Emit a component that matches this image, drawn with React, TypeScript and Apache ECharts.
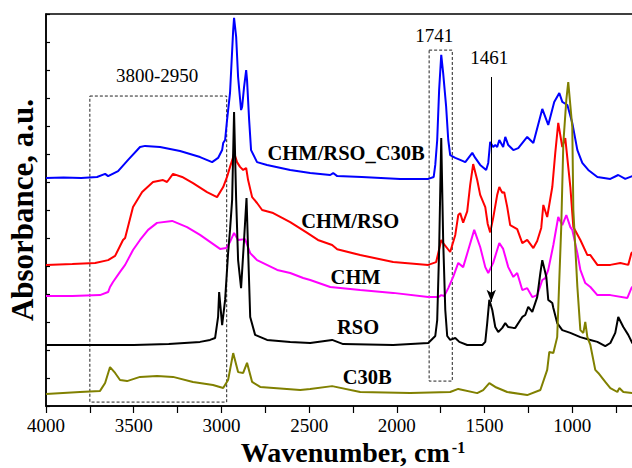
import React, { useEffect, useRef } from "react";
import * as echarts from "echarts";

// Wavenumber (cm-1), absorbance (a.u., offset stacked)
const chmRsoC30b: [number, number][] = [
  [4000, 8.14], [3900, 8.16], [3800, 8.14], [3709, 8.18], [3663, 8.29], [3646, 8.21], [3589, 8.39],
  [3532, 8.79], [3464, 9.25], [3435, 9.29], [3350, 9.25], [3236, 9.11], [3122, 8.89], [3053, 8.71],
  [3019, 8.86], [2996, 9.14], [2990, 9.39], [2979, 9.5], [2968, 10.21], [2951, 11.18], [2933, 13.43],
  [2928, 13.86], [2916, 13.18], [2905, 11.75], [2888, 10.57], [2882, 10.68], [2871, 11.39], [2859, 12.0],
  [2854, 11.64], [2842, 10.21], [2831, 9.14], [2797, 8.71], [2740, 8.61], [2608, 8.43], [2494, 8.32],
  [2380, 8.25], [2363, 8.32], [2340, 8.21], [2200, 8.18], [1981, 8.11], [1821, 8.11], [1790, 8.18],
  [1781, 8.61], [1770, 9.5], [1759, 11.29], [1747, 12.54], [1736, 11.89], [1719, 10.68], [1707, 9.5],
  [1696, 8.96], [1667, 8.86], [1639, 8.79], [1610, 8.71], [1570, 9.04], [1553, 8.86], [1525, 8.61],
  [1491, 8.43], [1479, 8.68], [1468, 9.43], [1451, 9.25], [1439, 9.32], [1428, 9.25], [1416, 9.5],
  [1394, 9.25], [1382, 9.61], [1365, 9.32], [1336, 9.14], [1308, 9.21], [1257, 9.61], [1222, 9.39],
  [1171, 10.61], [1137, 10.04], [1103, 10.86], [1074, 11.18], [1057, 10.86], [1028, 10.75], [1000, 10.11],
  [971, 9.14], [943, 8.68], [909, 8.43], [857, 8.18], [783, 8.11], [738, 8.25], [698, 8.11], [658, 8.21],
  [640, 8.2],
];

const chmRso: [number, number][] = [
  [4000, 5.04], [3850, 5.07], [3720, 5.11], [3646, 5.21], [3606, 5.36], [3561, 5.93], [3549, 6.0],
  [3504, 7.11], [3452, 7.64], [3390, 8.0], [3333, 8.07], [3310, 8.0], [3276, 8.29], [3224, 8.18],
  [3162, 7.96], [3082, 7.64], [3025, 7.46], [2990, 7.82], [2968, 8.18], [2951, 8.54], [2933, 8.89],
  [2928, 9.04], [2911, 8.71], [2894, 8.54], [2876, 8.43], [2859, 8.5], [2848, 8.07], [2825, 7.46],
  [2797, 7.25], [2768, 7.0], [2705, 6.89], [2608, 6.57], [2511, 6.18], [2450, 5.93], [2369, 5.75],
  [2340, 5.6], [2209, 5.39], [2021, 5.14], [1821, 5.04], [1776, 5.14], [1759, 5.6], [1747, 5.93],
  [1736, 5.82], [1696, 5.5], [1667, 6.11], [1650, 6.82], [1639, 6.89], [1622, 6.55], [1599, 6.95],
  [1582, 7.9], [1565, 8.64], [1542, 8.07], [1525, 7.54], [1496, 7.1], [1482, 6.5], [1468, 6.2],
  [1451, 6.71], [1428, 7.54], [1416, 7.82], [1399, 7.61], [1388, 7.64], [1371, 7.11], [1354, 6.46],
  [1314, 6.32], [1285, 5.82], [1257, 5.93], [1222, 5.64], [1200, 5.89], [1177, 6.36], [1165, 7.18],
  [1143, 6.75], [1114, 7.82], [1097, 9.04], [1080, 10.11], [1057, 9.25], [1040, 9.57], [1011, 7.82],
  [994, 6.39], [954, 5.93], [914, 5.39], [897, 5.39], [857, 5.04], [783, 5.04], [726, 5.11], [681, 5.04],
  [663, 5.46], [640, 5.6],
];

const chm: [number, number][] = [
  [4000, 3.93], [3850, 3.93], [3692, 3.96], [3646, 4.07], [3635, 4.25], [3618, 4.43], [3578, 4.79],
  [3549, 5.04], [3504, 5.57], [3464, 5.93], [3418, 6.29], [3367, 6.54], [3281, 6.61], [3196, 6.39],
  [3122, 6.11], [3065, 5.86], [3008, 5.61], [2973, 5.64], [2951, 5.86], [2928, 6.18], [2905, 5.93],
  [2865, 5.96], [2836, 5.46], [2797, 5.21], [2682, 4.86], [2608, 4.75], [2534, 4.57], [2494, 4.5],
  [2380, 4.25], [2209, 4.14], [2021, 4.04], [1821, 3.89], [1764, 3.89], [1747, 3.96], [1730, 3.93],
  [1707, 4.21], [1679, 4.61], [1650, 5.11], [1622, 4.96], [1593, 5.57], [1559, 6.29], [1525, 5.68],
  [1496, 4.96], [1479, 4.75], [1451, 5.11], [1416, 5.82], [1394, 5.61], [1365, 4.96], [1336, 4.61],
  [1314, 4.75], [1285, 4.14], [1257, 4.21], [1228, 3.89], [1200, 3.96], [1171, 4.5], [1154, 4.57],
  [1137, 4.86], [1108, 5.75], [1080, 6.75], [1057, 6.46], [1034, 6.82], [1011, 6.39], [1000, 6.29],
  [971, 5.46], [954, 4.86], [926, 4.39], [897, 4.25], [857, 3.96], [783, 3.96], [686, 3.86], [663, 4.21],
  [640, 4.4],
];

const rso: [number, number][] = [
  [4000, 2.18], [3800, 2.18], [3500, 2.18], [3300, 2.21], [3122, 2.29], [3065, 2.36], [3036, 2.43],
  [3019, 3.18], [3013, 4.07], [2996, 2.89], [2979, 3.79], [2962, 5.46], [2951, 6.29], [2939, 7.36],
  [2928, 10.5], [2916, 7.36], [2905, 5.21], [2888, 4.21], [2871, 5.93], [2857, 7.43], [2848, 5.57],
  [2836, 3.18], [2808, 2.54], [2740, 2.36], [2608, 2.29], [2494, 2.25], [2369, 2.36], [2306, 2.21],
  [2021, 2.18], [1821, 2.25], [1781, 2.5], [1770, 3.07], [1759, 5.57], [1747, 9.57], [1736, 5.93],
  [1724, 3.43], [1713, 2.5], [1696, 2.36], [1667, 2.43], [1644, 2.29], [1599, 2.18], [1513, 2.18],
  [1496, 2.29], [1485, 2.96], [1473, 3.79], [1456, 3.43], [1439, 2.82], [1422, 2.64], [1399, 2.79],
  [1382, 2.96], [1365, 2.82], [1336, 2.79], [1325, 2.79], [1285, 3.18], [1268, 3.25], [1251, 3.54],
  [1228, 3.36], [1200, 3.89], [1182, 4.75], [1171, 5.21], [1148, 4.61], [1137, 3.79], [1114, 3.68],
  [1108, 3.5], [1086, 2.96], [1057, 2.71], [1011, 2.61], [954, 2.46], [897, 2.36], [857, 2.29],
  [812, 2.14], [783, 2.25], [755, 2.61], [738, 3.18], [709, 2.82], [681, 2.54], [658, 2.25], [640, 2.1],
];

const c30b: [number, number][] = [
  [4000, 0.43], [3806, 0.5], [3692, 0.54], [3663, 0.82], [3635, 1.39], [3606, 1.18], [3578, 0.93],
  [3538, 0.89], [3464, 1.04], [3367, 1.07], [3276, 1.04], [3162, 0.86], [3048, 0.75], [2990, 0.64],
  [2962, 0.93], [2933, 1.89], [2905, 1.21], [2876, 1.18], [2854, 1.54], [2825, 0.86], [2779, 0.68],
  [2551, 0.57], [2494, 0.61], [2369, 0.71], [2209, 0.5], [1924, 0.46], [1696, 0.5], [1650, 0.61],
  [1542, 0.46], [1508, 0.57], [1473, 0.82], [1439, 0.68], [1371, 0.5], [1257, 0.39], [1182, 0.57],
  [1143, 1.29], [1131, 1.93], [1108, 1.89], [1086, 2.46], [1063, 6.39], [1051, 9.39], [1034, 10.93],
  [1023, 11.57], [1000, 9.96], [994, 7.0], [971, 4.25], [954, 2.71], [937, 2.61], [926, 3.0],
  [914, 2.46], [897, 2.18], [869, 1.29], [852, 1.18], [812, 0.86], [783, 0.64], [743, 0.5], [732, 0.64],
  [709, 0.5], [658, 0.46], [640, 0.45],
];

const seriesNames = ["CHM/RSO_C30B", "CHM/RSO", "CHM", "RSO", "C30B"];
const seriesColors = ["#0000FF", "#FF0000", "#FF00FF", "#000000", "#808000"];
const seriesData = [chmRsoC30b, chmRso, chm, rso, c30b];
// label anchor positions (wavenumber, absorbance) for each curve name
const curveLabelPos: [number, number][] = [
  [2289, 9.04], [2266, 6.61], [2235, 4.61], [2221, 2.82], [2169, 1.05],
];
const xTickLabels = [4000, 3500, 3000, 2500, 2000, 1500, 1000];

const FONT = "'Liberation Serif', 'Times New Roman', serif";

export default function App() {
  const ref = useRef<HTMLDivElement>(null);
  useEffect(() => {
    const chart = echarts.init(ref.current!, null, { renderer: "svg" });
    const series: any[] = seriesData.map((d, i) => ({
      name: seriesNames[i],
      type: "line",
      data: d,
      showSymbol: false,
      symbol: "none",
      smooth: false,
      silent: true,
      lineStyle: { color: seriesColors[i], width: 2 },
      itemStyle: { color: seriesColors[i] },
      z: 2 + i,
      markPoint: {
        silent: true,
        symbol: "rect",
        symbolSize: 1,
        itemStyle: { color: "rgba(0,0,0,0)" },
        data: [
          {
            coord: curveLabelPos[i],
            label: {
              show: true,
              position: "inside",
              formatter: seriesNames[i],
              color: "#000",
              fontFamily: FONT,
              fontWeight: "bold",
              fontSize: 20.5,
            },
          },
        ],
      },
    }));

    series.push({
      name: "annotations",
      type: "line",
      data: [],
      silent: true,
      z: 10,
      markArea: {
        silent: true,
        itemStyle: {
          color: "rgba(0,0,0,0)",
          borderColor: "#222",
          borderWidth: 1,
          borderType: [3, 2],
        },
        label: { show: false },
        data: [
          [{ coord: [3750, 11.07] }, { coord: [2970, 0.14] }],
          [{ coord: [1816, 12.71] }, { coord: [1684, 0.89] }],
        ],
      },
      markLine: {
        silent: true,
        symbol: ["none", "arrow"],
        symbolSize: [7, 12],
        lineStyle: { color: "#000", width: 1, type: "solid" },
        label: { show: false },
        data: [[{ coord: [1462, 11.75] }, { coord: [1462, 3.72] }]],
      },
      markPoint: {
        silent: true,
        symbol: "rect",
        symbolSize: 1,
        itemStyle: { color: "rgba(0,0,0,0)" },
        label: {
          show: true,
          position: "inside",
          color: "#000",
          fontFamily: FONT,
          fontSize: 19,
        },
        data: [
          { coord: [3367, 11.82], label: { formatter: "3800-2950" } },
          { coord: [1787, 13.25], label: { formatter: "1741" } },
          { coord: [1473, 12.46], label: { formatter: "1461" } },
        ],
      },
    });

    chart.setOption({
      animation: false,
      backgroundColor: "#fff",
      grid: {
        left: 46,
        top: 14,
        width: 614,
        height: 392,
        show: true,
        containLabel: false,
        outerBoundsMode: "none",
        borderColor: "#000",
        borderWidth: 1.5,
        backgroundColor: "rgba(0,0,0,0)",
      },
      xAxis: {
        type: "value",
        min: 500,
        max: 4000,
        interval: 250,
        inverse: true,
        axisLine: { show: true, onZero: false, lineStyle: { color: "#000", width: 1.5 } },
        axisTick: { show: true, inside: false, length: 7, lineStyle: { color: "#000", width: 1.2 } },
        axisLabel: {
          formatter: (v: number) => (xTickLabels.indexOf(v) >= 0 ? String(v) : ""),
          margin: 10,
          color: "#000",
          fontSize: 19,
          lineHeight: 19,
          fontFamily: FONT,
        },
        splitLine: { show: false },
        name: "{a|Wavenumber, cm}{b|-1}",
        nameLocation: "middle",
        nameGap: 33,
        nameMoveOverlap: false,
        nameTextStyle: {
          color: "#000",
          fontFamily: FONT,
          fontWeight: "bold",
          fontSize: 28,
          lineHeight: 26,
          rich: {
            a: { fontFamily: FONT, fontWeight: "bold", fontSize: 28, color: "#000", lineHeight: 26 },
            b: {
              fontFamily: FONT,
              fontWeight: "bold",
              fontSize: 16,
              color: "#000",
              verticalAlign: "top",
              lineHeight: 12,
              padding: [0, 0, 0, 2],
            },
          },
        },
      },
      yAxis: {
        type: "value",
        min: 0,
        max: 14,
        interval: 1,
        axisLine: { show: true, lineStyle: { color: "#000", width: 1.5 } },
        axisTick: { show: true, inside: true, length: 4, lineStyle: { color: "#000", width: 1.2 } },
        axisLabel: { show: false },
        splitLine: { show: false },
        name: "Absorbance, a.u.",
        nameLocation: "middle",
        nameGap: 8,
        nameRotate: 90,
        nameMoveOverlap: false,
        nameTextStyle: { color: "#000", fontFamily: FONT, fontWeight: "bold", fontSize: 31 },
      },
      series,
    });
    return () => chart.dispose();
  }, []);
  return (
    <div
      style={{
        position: "absolute",
        left: 0,
        top: 0,
        width: 632,
        height: 468,
        overflow: "hidden",
        background: "#fff",
      }}
    >
      <div ref={ref} style={{ width: 700, height: 468 }} />
    </div>
  );
}
